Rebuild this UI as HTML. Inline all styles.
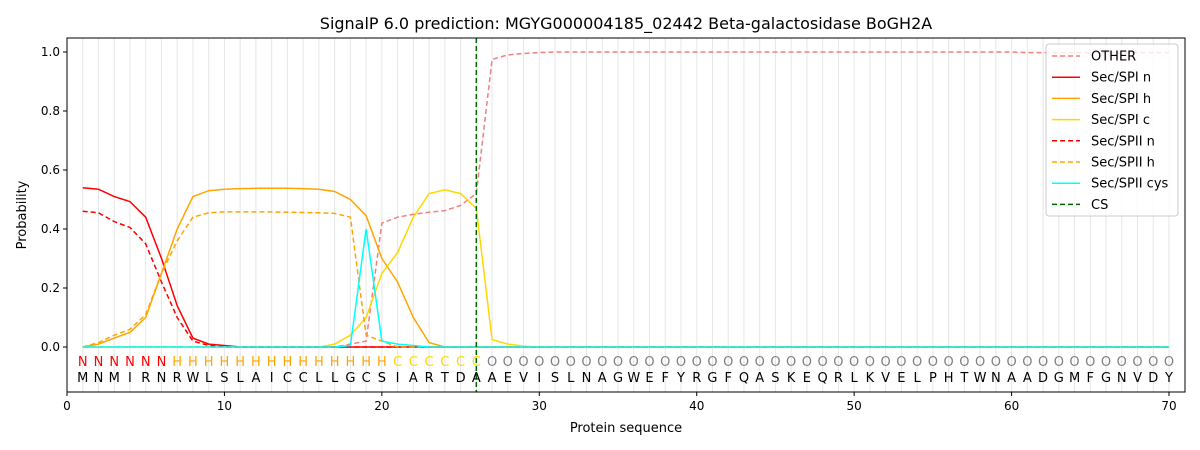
<!DOCTYPE html>
<html><head><meta charset="utf-8"><style>
body{margin:0;background:#fff;}
svg{display:block;font-family:"DejaVu Sans","Liberation Sans",sans-serif;}
</style></head><body>
<svg id="s" width="1200" height="450" xmlns="http://www.w3.org/2000/svg"></svg>
<script>
const s=document.getElementById('s');
const X=v=>67+v*15.743, Y=v=>347-v*295;
let h='';
h+='<rect x="67" y="38" width="1118" height="354" fill="#fff"/>';
for(let i=1;i<=70;i++)h+=`<line x1="${X(i)}" y1="38" x2="${X(i)}" y2="392" stroke="#e6e6e6" stroke-width="1"/>`;
const z=n=>Array(n).fill(0);
const one=n=>Array(n).fill(1);
const series=[
 ['#f08080','5,3',[0,0,0,0,0,0,0,0,0,0,0,0,0,0,0,0,0,.01,.02,.42,.44,.45,.457,.462,.48,.52,.975,.99,.995,.998,...Array(30).fill(1),...Array(10).fill(.998)]],
 ['#ff0000','',[.54,.535,.51,.493,.44,.3,.14,.03,.01,.005,...z(60)]],
 ['#ffa500','',[0,.01,.03,.05,.1,.25,.4,.51,.53,.535,.537,.538,.538,.538,.537,.535,.527,.5,.445,.3,.22,.1,.015,0,...z(46)]],
 ['#ffd700','',[...z(16),.01,.04,.1,.25,.32,.44,.52,.533,.52,.47,.025,.01,.003,...z(41)]],
 ['#ff0000','5,3',[.46,.455,.425,.405,.35,.22,.1,.02,.005,...z(61)]],
 ['#ffa500','5,3',[0,.015,.04,.06,.11,.25,.36,.44,.455,.458,.458,.458,.458,.457,.456,.455,.453,.44,.04,.02,...z(50)]],
 ['#00ffff','',[...z(17),.005,.4,.02,.01,.005,...z(48)]],
];
for(const [c,d,a] of series){
 const p=a.map((v,i)=>`${X(i+1).toFixed(1)},${Y(v).toFixed(1)}`).join(' ');
 h+=`<polyline points="${p}" fill="none" stroke="${c}" stroke-width="1.5" ${d?`stroke-dasharray="${d}"`:''}/>`;
}
h+=`<line x1="${X(26)}" y1="38" x2="${X(26)}" y2="392" stroke="#006400" stroke-width="1.5" stroke-dasharray="5,3"/>`;
const seq='MNMIRNRWLSLAICCLLGCSIARTDAAEVISLNAGWEFYRGFQASKEQRLKVELPHTWNAADGMFGNVDY';
for(let i=1;i<=70;i++){
 let l,c;
 if(i<=6){l='N';c='#ff0000'}else if(i<=20){l='H';c='#ffa500'}else if(i<=26){l='C';c='#ffd700'}else{l='O';c='#808080'}
 h+=`<text x="${X(i)}" y="366" font-size="13" fill="${c}" text-anchor="middle">${l}</text>`;
 h+=`<text x="${X(i)}" y="382" font-size="13" fill="#000" text-anchor="middle">${seq[i-1]}</text>`;
}
h+='<rect x="67" y="38" width="1118" height="354" fill="none" stroke="#000" stroke-width="1"/>';
for(let v=0;v<=70;v+=10){h+=`<line x1="${X(v)}" y1="392" x2="${X(v)}" y2="396" stroke="#000"/><text x="${X(v)}" y="410" font-size="12" text-anchor="middle">${v}</text>`;}
for(let k=0;k<=5;k++){const v=k*0.2;h+=`<line x1="63" y1="${Y(v)}" x2="67" y2="${Y(v)}" stroke="#000"/><text x="60" y="${Y(v)+4}" font-size="12" text-anchor="end">${v.toFixed(1)}</text>`;}
h+='<text x="626" y="432" font-size="13" text-anchor="middle">Protein sequence</text>';
h+='<text transform="translate(26,215) rotate(-90)" font-size="13" text-anchor="middle">Probability</text>';
h+='<text x="626" y="29" font-size="16" text-anchor="middle">SignalP 6.0 prediction: MGYG000004185_02442 Beta-galactosidase BoGH2A</text>';
h+='<rect x="1046" y="44" width="132" height="172" rx="3" fill="#fff" fill-opacity="0.8" stroke="#ccc"/>';
const leg=[['OTHER','#f08080','5,3'],['Sec/SPI n','#ff0000',''],['Sec/SPI h','#ffa500',''],['Sec/SPI c','#ffd700',''],['Sec/SPII n','#ff0000','5,3'],['Sec/SPII h','#ffa500','5,3'],['Sec/SPII cys','#00ffff',''],['CS','#006400','5,3']];
leg.forEach(([t,c,d],i)=>{const y=56+i*21.2;h+=`<line x1="1052" y1="${y}" x2="1080" y2="${y}" stroke="${c}" stroke-width="1.5" ${d?`stroke-dasharray="${d}"`:''}/><text x="1091" y="${y+4.5}" font-size="13">${t}</text>`;});
s.innerHTML=h;
</script>
</body></html>
